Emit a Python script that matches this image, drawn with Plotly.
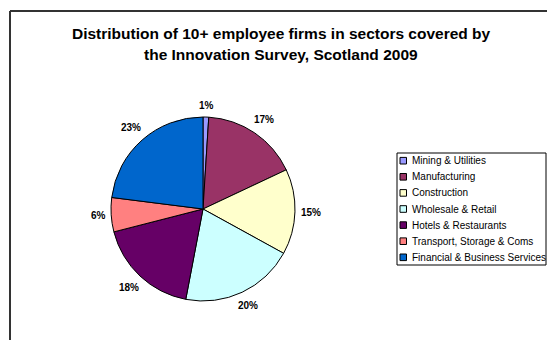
import math
import plotly.graph_objects as go

# Share of 10+ employee firms by sector (%)
sectors = [
    "Mining & Utilities",
    "Manufacturing",
    "Construction",
    "Wholesale & Retail",
    "Hotels & Restaurants",
    "Transport, Storage & Coms",
    "Financial & Business Services",
]
shares = [1, 17, 15, 20, 18, 6, 23]
colors = ["#9999FF", "#993366", "#FFFFCC", "#CCFFFF", "#660066", "#FF8080", "#0066CC"]

title_lines = [
    "Distribution of 10+ employee firms in sectors covered by",
    "the Innovation Survey, Scotland 2009",
]

W, H = 547, 340
FONT = "Liberation Sans, Arial, sans-serif"

# pie placement (pixels)
CX, CY, R = 203.0, 209.0, 92.0
LABEL_GAP = 5.5


def px(x):
    return x / W


def py(y):
    return 1 - y / H


fig = go.Figure(
    go.Pie(
        labels=sectors,
        values=shares,
        sort=False,
        direction="clockwise",
        rotation=0,
        marker=dict(colors=colors, line=dict(color="black", width=1)),
        textinfo="none",
        domain=dict(x=[px(CX - R), px(CX + R)], y=[py(CY + R), py(CY - R)]),
        showlegend=False,
        hoverinfo="label+percent",
    )
)

shapes = [
    # chart frame (top and left edges)
    dict(type="line", xref="paper", yref="paper", x0=px(10), x1=1.0, y0=py(11), y1=py(11),
         line=dict(color="#333333", width=2)),
    dict(type="line", xref="paper", yref="paper", x0=px(10), x1=px(10), y0=py(11), y1=0.0,
         line=dict(color="#333333", width=2)),
    # legend box
    dict(type="rect", xref="paper", yref="paper", x0=px(397), x1=px(546), y0=py(153), y1=py(265),
         line=dict(color="black", width=1), fillcolor="white"),
]

annotations = []
for i, line in enumerate(title_lines):
    annotations.append(dict(
        text=line, xref="paper", yref="paper", x=px(281), y=py(34 + 20 * i),
        xanchor="center", yanchor="middle", showarrow=False,
        font=dict(family=FONT, size=15.5, color="black", weight="bold"),
    ))

# percentage labels just outside each slice, at the slice's mid-angle
total = sum(shares)
cum = 0.0
for v in shares:
    mid = (cum + v / 2) / total * 2 * math.pi
    cum += v
    ux, uy = math.sin(mid), -math.cos(mid)
    label = f"{v / total * 100:.0f}%"
    half_w = (5.56 * (len(label) - 1) + 8.89) / 2
    half_h = 5.5
    d = R + LABEL_GAP + abs(ux) * half_w + abs(uy) * half_h
    annotations.append(dict(
        text=label, xref="paper", yref="paper",
        x=px(CX + d * ux), y=py(CY + d * uy),
        xanchor="center", yanchor="middle", showarrow=False,
        font=dict(family=FONT, size=10, color="black", weight="bold"),
    ))

# legend entries
for i, (name, col) in enumerate(zip(sectors, colors)):
    yc = 160.7 + 16.1 * i
    shapes.append(dict(
        type="rect", xref="paper", yref="paper",
        x0=px(400), x1=px(406.5), y0=py(yc + 3.3), y1=py(yc - 3.3),
        fillcolor=col, line=dict(color="black", width=1),
    ))
    annotations.append(dict(
        text=name, xref="paper", yref="paper", x=px(409.5), y=py(yc),
        xanchor="left", yanchor="middle", showarrow=False,
        font=dict(family=FONT, size=10, color="black"),
    ))

fig.update_layout(
    width=W,
    height=H,
    margin=dict(l=0, r=0, t=0, b=0),
    paper_bgcolor="white",
    plot_bgcolor="white",
    shapes=shapes,
    annotations=annotations,
    showlegend=False,
)

fig.write_html("out.html")
